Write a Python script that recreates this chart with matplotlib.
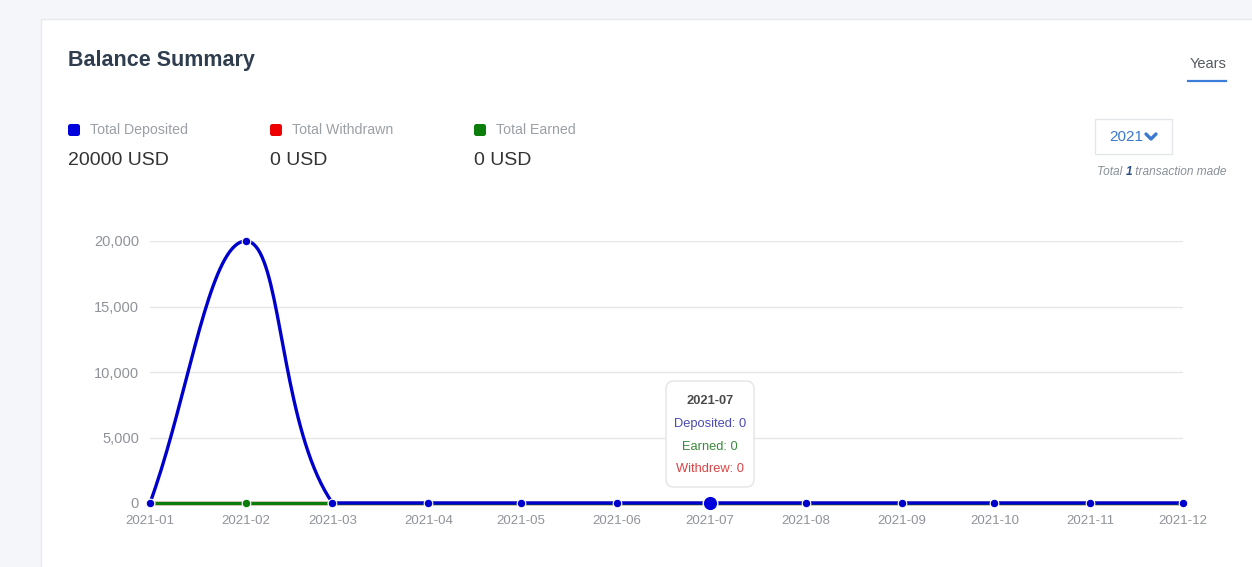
import matplotlib
matplotlib.use("Agg")
import matplotlib.pyplot as plt
import matplotlib.dates as mdates
from matplotlib.patches import Rectangle, FancyBboxPatch
from matplotlib.lines import Line2D
import numpy as np
import datetime as dt

# ---- data ----
months = ['2021-01', '2021-02', '2021-03', '2021-04', '2021-05', '2021-06',
          '2021-07', '2021-08', '2021-09', '2021-10', '2021-11', '2021-12']
deposited = [0, 20000, 0, 0, 0, 0, 0, 0, 0, 0, 0, 0]
earned = [0, 0, 0, 0, 0, 0, 0, 0, 0, 0, 0, 0]
withdrawn = [0, 0, 0, 0, 0, 0, 0, 0, 0, 0, 0, 0]
y_ticks = [0, 5000, 10000, 15000, 20000]
totals = {'Total Deposited': '20000 USD', 'Total Withdrawn': '0 USD', 'Total Earned': '0 USD'}
hover_index = 6
year_label = '2021'
transactions = 1

plt.rcParams['font.family'] = ['Liberation Sans', 'DejaVu Sans']

W, H = 1252, 567
fig = plt.figure(figsize=(W / 100, H / 100), dpi=100)
fig.patch.set_facecolor('#f4f6f9')

def fx(x):
    return x / W

def fy(y):
    return 1 - y / H

def box(x0, y0, x1, y1, r, **kw):
    # rounded box in pixel coordinates (top-left origin)
    return FancyBboxPatch((x0, H - y1), x1 - x0, y1 - y0,
                          boxstyle=f'round,pad=0,rounding_size={r}',
                          transform=None, **kw)

# card
card = Rectangle((fx(41), -0.01), 1.1, fy(19) + 0.01, transform=fig.transFigure,
                 facecolor='white', edgecolor='#e6eaef', linewidth=1, zorder=-5)
fig.add_artist(card)

# header
fig.text(fx(68), fy(61), 'Balance Summary', fontsize=15.5, fontweight='bold',
         color='#2f3d4e', va='center', ha='left')
fig.text(fx(1226), fy(64), 'Years', fontsize=10.5, color='#555a60', va='center', ha='right')
fig.add_artist(Line2D([fx(1188), fx(1226)], [fy(81), fy(81)], transform=fig.transFigure,
                      color='#3b7dd8', linewidth=1.6))

# legend totals
leg_colors = ['#0000dd', '#ee0000', '#0a7d0a']
leg_x = [68, 270, 474]
for (name, val), c, x0 in zip(totals.items(), leg_colors, leg_x):
    fig.add_artist(box(x0, 124, x0 + 12, 136, 2.5, facecolor=c, edgecolor='none'))
    fig.text(fx(x0 + 22), fy(130), name, fontsize=10.2, color='#9aa0a6', va='center', ha='left')
    fig.text(fx(x0), fy(161), val, fontsize=14, color='#333333', va='center', ha='left')

# year dropdown
fig.add_artist(Rectangle((fx(1095), fy(154)), fx(77), 35 / H, transform=fig.transFigure,
                         facecolor='white', edgecolor='#e3e6ea', linewidth=1))
fig.text(fx(1109), fy(137), year_label, fontsize=11, color='#3b78d0', va='center', ha='left')
fig.add_artist(Line2D([fx(1146), fx(1151), fx(1156)], [fy(134), fy(139), fy(134)],
                      transform=fig.transFigure, color='#3b78d0', linewidth=2.4,
                      solid_capstyle='round', solid_joinstyle='round'))
fs_small = 8.6
t1 = fig.text(fx(1097), fy(172), 'Total ', fontsize=fs_small, style='italic', color='#8a9098',
              va='center', ha='left')
fig.canvas.draw()
r = fig.canvas.get_renderer()
bb = t1.get_window_extent(r)
t2 = fig.text(bb.x1 / W, fy(172), str(transactions), fontsize=fs_small, style='italic',
              fontweight='bold', color='#2a4f8a', va='center', ha='left')
bb2 = t2.get_window_extent(r)
fig.text(bb2.x1 / W, fy(172), ' transaction made', fontsize=fs_small, style='italic',
         color='#8a9098', va='center', ha='left')

# ---- chart ----
x_left, x_right, y_bot, y_top = 150, 1183, 503, 241
ax = fig.add_axes([fx(x_left), fy(y_bot), (x_right - x_left) / W, (y_bot - y_top) / H])
ax.set_facecolor('none')
dates = [dt.datetime.strptime(m, '%Y-%m') for m in months]
xn = mdates.date2num(dates)
ax.set_xlim(xn[0], xn[-1])
ax.set_ylim(0, 20000)
ax.set_yticks(y_ticks)
ax.set_yticklabels([f'{v:,}' for v in y_ticks])
ax.set_xticks(xn)
ax.set_xticklabels(months)
for s in ax.spines.values():
    s.set_visible(False)
ax.tick_params(axis='both', length=0, labelcolor='#8f9399', labelsize=9.5)
ax.tick_params(axis='y', pad=8, labelsize=10.5)
ax.tick_params(axis='x', pad=9)
ax.grid(axis='y', color='#e6e6e6', linewidth=1)
ax.set_axisbelow(True)


def spline_path(xvals, yvals, tension=0.4):
    pts = ax.transData.transform(np.column_stack([xvals, yvals]))
    lo = ax.transData.transform((xvals[0], 0))[1]
    hi = ax.transData.transform((xvals[0], 20000))[1]
    n = len(pts)
    cps = []
    for i in range(n):
        prev = pts[i - 1] if i > 0 else pts[i]
        nxt = pts[i + 1] if i < n - 1 else pts[i]
        mid = pts[i]
        d01 = np.hypot(*(mid - prev))
        d12 = np.hypot(*(nxt - mid))
        tot = d01 + d12
        s01 = d01 / tot if tot else 0
        s12 = d12 / tot if tot else 0
        fa, fb = tension * s01, tension * s12
        cprev = mid - fa * (nxt - prev)
        cnext = mid + fb * (nxt - prev)
        cprev[1] = np.clip(cprev[1], lo, hi)
        cnext[1] = np.clip(cnext[1], lo, hi)
        cps.append((cprev, cnext))
    out = []
    tt = np.linspace(0, 1, 40)[:, None]
    for i in range(n - 1):
        p0, p3 = pts[i], pts[i + 1]
        p1, p2 = cps[i][1], cps[i + 1][0]
        seg = ((1 - tt) ** 3) * p0 + 3 * ((1 - tt) ** 2) * tt * p1 + 3 * (1 - tt) * tt ** 2 * p2 + tt ** 3 * p3
        out.append(seg if i == 0 else seg[1:])
    out = np.vstack(out)
    data = ax.transData.inverted().transform(out)
    return data[:, 0], data[:, 1]


series = [(withdrawn, '#e00000', 2), (earned, '#0a7d0a', 3), (deposited, '#0000cc', 4)]
for vals, col, z in series:
    sx, sy = spline_path(xn, np.array(vals, float))
    ax.plot(sx, sy, color=col, linewidth=2.4, zorder=z, clip_on=False, solid_capstyle='butt')
    ax.plot(xn, vals, linestyle='none', marker='o', markersize=6.2, markerfacecolor=col,
            markeredgecolor='white', markeredgewidth=0.8, zorder=z + 0.5, clip_on=False)

# hovered point
ax.plot([xn[hover_index]], [deposited[hover_index]], marker='o', markersize=10.5,
        markerfacecolor='#0000dd', markeredgecolor='white', markeredgewidth=1,
        zorder=10, clip_on=False)

# tooltip
tx = 710
fig.add_artist(box(666, 381, 754, 487, 8, facecolor='white', edgecolor='#e4e4e4',
                   linewidth=1, zorder=20))
fs_tt = 9.3
fig.text(fx(tx), fy(401), months[hover_index], fontsize=fs_tt, fontweight='bold', color='#4a4a4a',
         ha='center', va='center', zorder=21)
fig.text(fx(tx), fy(424), f'Deposited: {deposited[hover_index]}', fontsize=fs_tt, color='#4b4bb5',
         ha='center', va='center', zorder=21)
fig.text(fx(tx), fy(447), f'Earned: {earned[hover_index]}', fontsize=fs_tt, color='#3b8a3b',
         ha='center', va='center', zorder=21)
fig.text(fx(tx), fy(469), f'Withdrew: {withdrawn[hover_index]}', fontsize=fs_tt, color='#d94545',
         ha='center', va='center', zorder=21)

fig.savefig('out.png', dpi=100, facecolor=fig.get_facecolor())
